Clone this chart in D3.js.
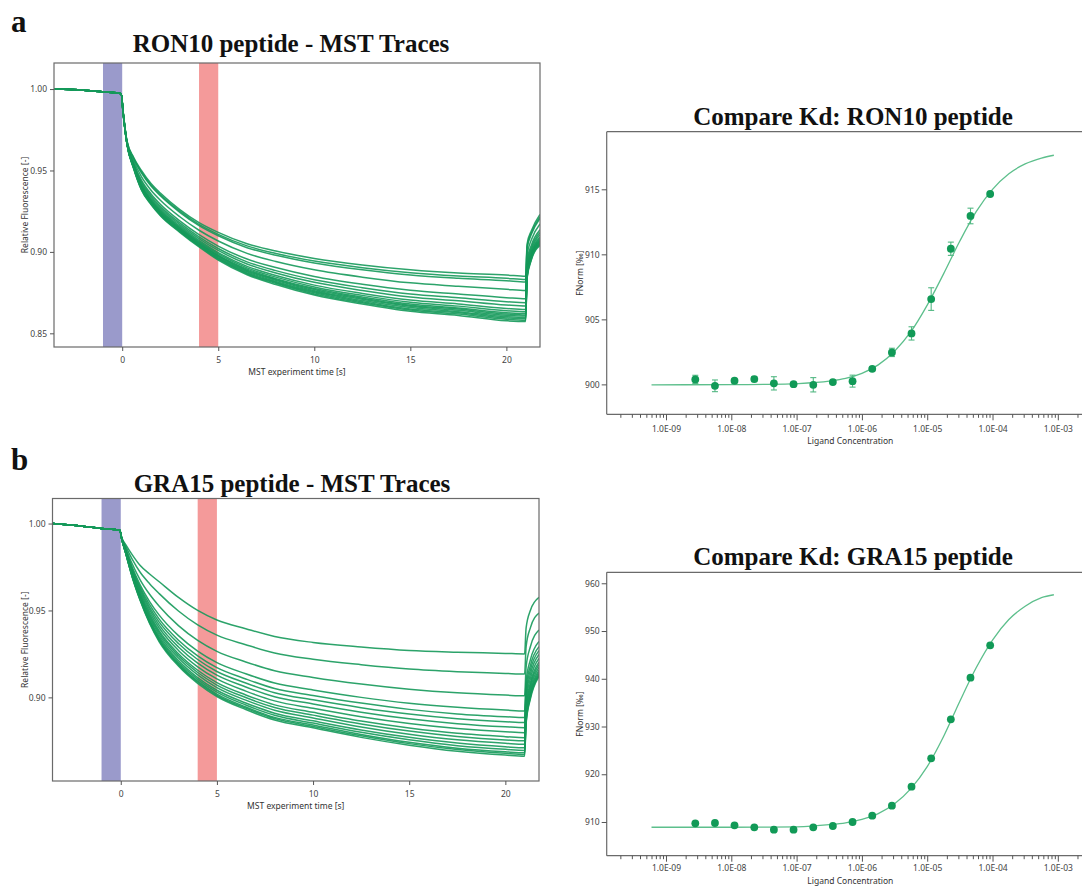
<!DOCTYPE html>
<html><head><meta charset="utf-8">
<script src="https://cdn.jsdelivr.net/npm/d3@7"></script>
<style>
body{margin:0;background:#fff;}
svg{display:block;}
</style></head><body>
<svg id="c" width="1082" height="886"></svg>
<script>
// ---------------- DATA ----------------
const mstTimeTicks = [0, 5, 10, 15, 20];
const coldRegion = [-1, 0];
const hotRegion = [4, 5];
const preTimes = [-3.55, -2, -1, -0.05];
const preA = [1.000, 0.9993, 0.9983, 0.9972];
const preB = [1.000, 0.9985, 0.9972, 0.9962];
const traceTimes = [0.05, 0.25, 0.6, 1, 1.5, 2, 3, 4, 5, 6.5, 8, 10, 12.5, 15, 17.5, 20, 21, 21.08, 21.3, 21.75];

const tracesA = [
  [0.986, 0.968, 0.958, 0.950, 0.942, 0.936, 0.926, 0.918, 0.912, 0.905, 0.9005, 0.8960, 0.892, 0.889, 0.887, 0.8858, 0.885, 0.905, 0.913, 0.923],
  [0.9859, 0.9679, 0.9575, 0.9491, 0.9411, 0.9350, 0.9250, 0.9169, 0.9108, 0.9037, 0.8990, 0.8944, 0.8903, 0.8872, 0.8852, 0.8838, 0.8830, 0.9035, 0.9117, 0.9217],
  [0.9859, 0.9678, 0.9571, 0.9485, 0.9404, 0.9343, 0.9243, 0.9161, 0.9099, 0.9026, 0.8979, 0.8932, 0.8890, 0.8858, 0.8838, 0.8823, 0.8815, 0.9024, 0.9108, 0.9206],
  [0.9857, 0.9674, 0.9558, 0.9462, 0.9379, 0.9316, 0.9216, 0.9133, 0.9067, 0.8991, 0.8941, 0.8890, 0.8845, 0.8810, 0.8789, 0.8770, 0.8763, 0.8984, 0.9074, 0.9171],
  [0.9855, 0.9670, 0.9545, 0.9441, 0.9356, 0.9291, 0.9191, 0.9106, 0.9036, 0.8956, 0.8904, 0.8849, 0.8801, 0.8764, 0.8741, 0.8719, 0.8712, 0.8946, 0.9041, 0.9136],
  [0.9854, 0.9668, 0.9539, 0.9430, 0.9344, 0.9278, 0.9178, 0.9092, 0.9021, 0.8939, 0.8885, 0.8829, 0.8780, 0.8741, 0.8718, 0.8694, 0.8688, 0.8927, 0.9025, 0.9119],
  [0.9853, 0.9667, 0.9534, 0.9421, 0.9335, 0.9268, 0.9168, 0.9082, 0.9009, 0.8926, 0.8871, 0.8813, 0.8763, 0.8723, 0.8700, 0.8674, 0.8668, 0.8912, 0.9012, 0.9106],
  [0.9853, 0.9665, 0.9529, 0.9412, 0.9325, 0.9258, 0.9158, 0.9071, 0.8996, 0.8911, 0.8855, 0.8796, 0.8745, 0.8704, 0.8680, 0.8653, 0.8647, 0.8897, 0.8999, 0.9091],
  [0.9852, 0.9664, 0.9525, 0.9407, 0.9319, 0.9251, 0.9151, 0.9063, 0.8988, 0.8902, 0.8845, 0.8785, 0.8733, 0.8691, 0.8667, 0.8639, 0.8633, 0.8886, 0.8990, 0.9082],
  [0.9852, 0.9664, 0.9522, 0.9401, 0.9313, 0.9245, 0.9145, 0.9057, 0.8980, 0.8894, 0.8836, 0.8775, 0.8723, 0.8680, 0.8656, 0.8627, 0.8621, 0.8877, 0.8982, 0.9074],
  [0.9851, 0.9663, 0.9520, 0.9398, 0.9309, 0.9241, 0.9141, 0.9052, 0.8975, 0.8888, 0.8831, 0.8769, 0.8716, 0.8673, 0.8649, 0.8619, 0.8613, 0.8871, 0.8977, 0.9068],
  [0.9851, 0.9662, 0.9518, 0.9395, 0.9306, 0.9237, 0.9137, 0.9048, 0.8971, 0.8883, 0.8825, 0.8762, 0.8709, 0.8666, 0.8641, 0.8611, 0.8606, 0.8865, 0.8972, 0.9063],
  [0.9851, 0.9662, 0.9516, 0.9391, 0.9302, 0.9232, 0.9132, 0.9043, 0.8965, 0.8877, 0.8818, 0.8755, 0.8701, 0.8658, 0.8633, 0.8602, 0.8597, 0.8859, 0.8966, 0.9057],
  [0.9851, 0.9661, 0.9514, 0.9387, 0.9298, 0.9228, 0.9128, 0.9039, 0.8960, 0.8871, 0.8812, 0.8749, 0.8694, 0.8650, 0.8626, 0.8594, 0.8589, 0.8853, 0.8961, 0.9051],
  [0.9850, 0.9661, 0.9512, 0.9384, 0.9294, 0.9224, 0.9124, 0.9035, 0.8955, 0.8866, 0.8807, 0.8742, 0.8688, 0.8643, 0.8618, 0.8586, 0.8581, 0.8847, 0.8956, 0.9046],
  [0.985, 0.966, 0.951, 0.938, 0.929, 0.922, 0.912, 0.903, 0.895, 0.886, 0.880, 0.8735, 0.868, 0.8635, 0.861, 0.8577, 0.8572, 0.884, 0.895, 0.904]
];

const tracesB = [
  [0.992, 0.988, 0.982, 0.976, 0.971, 0.9665, 0.9575, 0.950, 0.9445, 0.9395, 0.935, 0.9316, 0.929, 0.927, 0.926, 0.9253, 0.925, 0.940, 0.950, 0.9575],
  [0.9918, 0.9870, 0.9794, 0.9721, 0.9654, 0.9597, 0.9497, 0.9417, 0.9358, 0.9303, 0.9255, 0.9219, 0.9188, 0.9163, 0.9148, 0.9138, 0.9134, 0.9292, 0.9400, 0.9485],
  [0.9916, 0.9860, 0.9767, 0.9678, 0.9593, 0.9524, 0.9413, 0.9328, 0.9265, 0.9204, 0.9153, 0.9115, 0.9077, 0.9047, 0.9026, 0.9013, 0.9009, 0.9175, 0.9291, 0.9388],
  [0.9914, 0.9852, 0.9748, 0.9649, 0.9551, 0.9473, 0.9355, 0.9266, 0.9200, 0.9136, 0.9083, 0.9043, 0.9000, 0.8966, 0.8943, 0.8927, 0.8922, 0.9094, 0.9216, 0.9322],
  [0.9914, 0.9849, 0.9739, 0.9636, 0.9533, 0.9450, 0.9329, 0.9239, 0.9171, 0.9106, 0.9051, 0.9011, 0.8967, 0.8931, 0.8905, 0.8889, 0.8884, 0.9058, 0.9183, 0.9292],
  [0.9913, 0.9846, 0.9733, 0.9626, 0.9518, 0.9433, 0.9310, 0.9218, 0.9149, 0.9083, 0.9027, 0.8986, 0.8941, 0.8904, 0.8877, 0.8860, 0.8855, 0.9030, 0.9157, 0.9269],
  [0.9913, 0.9844, 0.9726, 0.9616, 0.9505, 0.9416, 0.9290, 0.9197, 0.9128, 0.9060, 0.9004, 0.8962, 0.8915, 0.8877, 0.8849, 0.8831, 0.8826, 0.9003, 0.9132, 0.9247],
  [0.9912, 0.9841, 0.9720, 0.9606, 0.9490, 0.9399, 0.9270, 0.9176, 0.9106, 0.9036, 0.8980, 0.8937, 0.8889, 0.8850, 0.8821, 0.8802, 0.8797, 0.8976, 0.9107, 0.9224],
  [0.9912, 0.9839, 0.9714, 0.9596, 0.9477, 0.9382, 0.9251, 0.9156, 0.9085, 0.9014, 0.8957, 0.8914, 0.8864, 0.8824, 0.8793, 0.8774, 0.8768, 0.8950, 0.9082, 0.9202],
  [0.9911, 0.9837, 0.9709, 0.9590, 0.9467, 0.9371, 0.9239, 0.9143, 0.9071, 0.8999, 0.8942, 0.8898, 0.8847, 0.8806, 0.8775, 0.8755, 0.8750, 0.8932, 0.9066, 0.9188],
  [0.9911, 0.9836, 0.9705, 0.9583, 0.9458, 0.9360, 0.9226, 0.9129, 0.9056, 0.8984, 0.8926, 0.8882, 0.8830, 0.8788, 0.8756, 0.8736, 0.8730, 0.8914, 0.9049, 0.9173],
  [0.9911, 0.9834, 0.9701, 0.9576, 0.9448, 0.9348, 0.9212, 0.9114, 0.9041, 0.8968, 0.8909, 0.8865, 0.8813, 0.8770, 0.8737, 0.8716, 0.8710, 0.8895, 0.9032, 0.9157],
  [0.9911, 0.9833, 0.9697, 0.9571, 0.9441, 0.9339, 0.9202, 0.9104, 0.9030, 0.8956, 0.8897, 0.8852, 0.8799, 0.8756, 0.8722, 0.8701, 0.8695, 0.8881, 0.9019, 0.9145],
  [0.9910, 0.9832, 0.9694, 0.9566, 0.9434, 0.9331, 0.9193, 0.9093, 0.9019, 0.8945, 0.8885, 0.8841, 0.8787, 0.8742, 0.8708, 0.8687, 0.8681, 0.8868, 0.9006, 0.9135],
  [0.9910, 0.9831, 0.9692, 0.9563, 0.9430, 0.9326, 0.9187, 0.9087, 0.9012, 0.8938, 0.8878, 0.8833, 0.8779, 0.8734, 0.8700, 0.8678, 0.8672, 0.8859, 0.8999, 0.9128],
  [0.991, 0.983, 0.969, 0.956, 0.9425, 0.932, 0.918, 0.908, 0.9005, 0.893, 0.887, 0.8825, 0.877, 0.8725, 0.869, 0.8668, 0.8662, 0.885, 0.899, 0.912]
];

const relFluorTicksA = [0.85, 0.90, 0.95, 1.00];
const relFluorTicksB = [0.90, 0.95, 1.00];

const ligandConc = [2.81e-9, 5.62e-9, 1.12e-8, 2.25e-8, 4.49e-8, 8.98e-8, 1.80e-7, 3.59e-7, 7.19e-7, 1.44e-6, 2.88e-6, 5.75e-6, 1.15e-5, 2.30e-5, 4.60e-5, 9.20e-5];
const fnormA = [900.38, 899.89, 900.28, 900.41, 900.08, 900.02, 899.97, 900.18, 900.25, 901.2, 902.46, 903.92, 906.56, 910.43, 912.95, 914.64];
const fnormErrA = [0.32, 0.45, 0.15, 0.2, 0.51, 0.15, 0.55, 0.15, 0.46, 0.15, 0.32, 0.51, 0.87, 0.51, 0.6, 0.1];
const fnormB = [909.73, 909.79, 909.3, 908.89, 908.39, 908.39, 908.89, 909.16, 910.0, 911.33, 913.42, 917.39, 923.33, 931.5, 940.23, 947.0];
const fnormErrB = [0.3, 0.3, 0.3, 0.3, 0.3, 0.3, 0.3, 0.3, 0.3, 0.3, 0.3, 0.3, 0.3, 0.3, 0.3, 0.3];

const fitConc = [6.0e-10, 1e-8, 3.16e-8, 1e-7, 3.16e-7, 5.62e-7, 1e-6, 1.78e-6, 3.16e-6, 5.62e-6, 1e-5, 1.78e-5, 3.16e-5, 5.62e-5, 1e-4, 1.78e-4, 3.16e-4, 5.62e-4, 8.7e-4];
const fitA = [899.97, 899.98, 900.0, 900.06, 900.25, 900.46, 900.85, 901.5, 902.55, 904.05, 906.1, 908.5, 911.02, 913.28, 915.0, 916.2, 916.95, 917.4, 917.62];
const fitB = [908.9, 908.9, 908.92, 908.98, 909.43, 909.83, 910.53, 911.74, 913.8, 917.0, 921.6, 927.9, 935.3, 942.3, 948.1, 952.4, 955.2, 957.0, 957.6];

const fnormTicksA = [900, 905, 910, 915];
const fnormTicksB = [910, 920, 930, 940, 950, 960];
const concMajorTicks = [1e-9, 1e-8, 1e-7, 1e-6, 1e-5, 1e-4, 1e-3];

// ---------------- DRAWING ----------------
const svg = d3.select("#c");
const SANS = "'Segoe UI','Noto Sans','Open Sans',sans-serif";
const SERIF = "'Liberation Serif','DejaVu Serif',serif";
const GREEN = "#15995a";
const AXIS = "#555";

function styleAxis(g){
  g.select(".domain").remove();
  g.selectAll(".tick line").attr("stroke", AXIS).attr("stroke-width", 1);
  g.selectAll(".tick text").attr("fill", "#444").style("font-family", SANS).style("font-size", "8.5px");
}

function mstPanel(opt){
  const {x0,x1,y0,y1,yDom,yTicks,pre,preT,traces,title,titleX,titleY,label,labelY,id} = opt;
  const x = d3.scaleLinear().domain([-3.55, 21.75]).range([x0, x1]);
  const y = d3.scaleLinear().domain(yDom).range([y1, y0]);
  const g = svg.append("g");
  g.append("clipPath").attr("id", id).append("rect").attr("x", x0).attr("y", y0).attr("width", x1-x0).attr("height", y1-y0);
  g.append("rect").attr("x", x(coldRegion[0])).attr("y", y0).attr("width", x(coldRegion[1])-x(coldRegion[0])).attr("height", y1-y0).attr("fill", "#9a9acb");
  g.append("rect").attr("x", x(hotRegion[0])).attr("y", y0).attr("width", x(hotRegion[1])-x(hotRegion[0])).attr("height", y1-y0).attr("fill", "#f49a9a");
  const line = d3.line().x(d => x(d[0])).y(d => y(d[1])).curve(d3.curveMonotoneX);
  const tg = g.append("g").attr("clip-path", `url(#${id})`);
  traces.forEach(tr => {
    const pts = preT.map((t,i) => [t, pre[i]]).concat(traceTimes.map((t,i) => [t, tr[i]]));
    tg.append("path").attr("d", line(pts)).attr("fill", "none").attr("stroke", GREEN).attr("stroke-width", 1.5).attr("stroke-opacity", 0.9);
  });
  g.append("rect").attr("x", x0).attr("y", y0).attr("width", x1-x0).attr("height", y1-y0).attr("fill", "none").attr("stroke", "#6a6a6a").attr("stroke-width", 1.2);
  const ax = g.append("g").attr("transform", `translate(0,${y1})`).call(d3.axisBottom(x).tickValues(mstTimeTicks).tickSize(4).tickPadding(6).tickFormat(d3.format("d")));
  styleAxis(ax);
  const ay = g.append("g").attr("transform", `translate(${x0},0)`).call(d3.axisLeft(y).tickValues(yTicks).tickSize(4).tickPadding(3).tickFormat(d3.format(".2f")));
  styleAxis(ay);
  g.append("text").attr("x", (x0+x1)/2).attr("y", y1+28).attr("text-anchor", "middle").style("font-family", SANS).style("font-size", "8.5px").attr("fill", "#333").text("MST experiment time [s]");
  g.append("text").attr("transform", `translate(28,${(y0+y1)/2}) rotate(-90)`).attr("text-anchor", "middle").style("font-family", SANS).style("font-size", "8.5px").attr("fill", "#333").text("Relative Fluorescence [-]");
  g.append("text").attr("x", titleX).attr("y", titleY).attr("text-anchor", "middle").style("font-family", SERIF).style("font-weight", "bold").style("font-size", "25px").attr("fill", "#111").text(title);
  g.append("text").attr("x", 11).attr("y", labelY).style("font-family", SERIF).style("font-weight", "bold").style("font-size", "31px").attr("fill", "#111").text(label);
}

function kdPanel(opt){
  const {y0,y1,yDom,yTicks,vals,errs,fit,title,titleY,xTitleDy,tickPad} = opt;
  const x0 = 606.7, x1 = 1094;
  const x = d3.scaleLog().domain([Math.pow(10,-9.908), Math.pow(10,-2.446)]).range([x0, x1]);
  const y = d3.scaleLinear().domain(yDom).range([y1, y0]);
  const g = svg.append("g");
  g.append("line").attr("x1", x0).attr("x2", x1).attr("y1", y0).attr("y2", y0).attr("stroke", "#6a6a6a").attr("stroke-width", 1.2);
  g.append("line").attr("x1", x0).attr("x2", x0).attr("y1", y0).attr("y2", y1).attr("stroke", "#6a6a6a").attr("stroke-width", 1.2);
  g.append("line").attr("x1", x0).attr("x2", x1).attr("y1", y1).attr("y2", y1).attr("stroke", "#6a6a6a").attr("stroke-width", 1.2);
  const minor = x.ticks().filter(d => !concMajorTicks.some(m => Math.abs(m-d)/m < 1e-6));
  g.append("g").attr("transform", `translate(0,${y1})`).call(d3.axisBottom(x).tickValues(minor).tickSize(3.5).tickFormat("")).call(styleAxis);
  const fmt = d => { const e = Math.round(Math.log10(d)); return "1.0E" + (e < 0 ? "-" : "+") + String(Math.abs(e)).padStart(2, "0"); };
  const ax = g.append("g").attr("transform", `translate(0,${y1})`).call(d3.axisBottom(x).tickValues(concMajorTicks).tickSize(6).tickPadding(tickPad).tickFormat(fmt));
  styleAxis(ax);
  const ay = g.append("g").attr("transform", `translate(${x0},0)`).call(d3.axisLeft(y).tickValues(yTicks).tickSize(5).tickPadding(2).tickFormat(d3.format("d")));
  styleAxis(ay);
  const line = d3.line().x(d => x(d[0])).y(d => y(d[1])).curve(d3.curveMonotoneX);
  g.append("path").attr("d", line(fitConc.map((c,i) => [c, fit[i]]))).attr("fill", "none").attr("stroke", "#5dbf8c").attr("stroke-width", 1.3);
  const eb = g.append("g").attr("stroke", "#52b883").attr("stroke-width", 1.1);
  ligandConc.forEach((c,i) => {
    const cx = x(c), ya = y(vals[i]-errs[i]), yb = y(vals[i]+errs[i]);
    eb.append("line").attr("x1", cx).attr("x2", cx).attr("y1", ya).attr("y2", yb);
    eb.append("line").attr("x1", cx-3).attr("x2", cx+3).attr("y1", ya).attr("y2", ya);
    eb.append("line").attr("x1", cx-3).attr("x2", cx+3).attr("y1", yb).attr("y2", yb);
  });
  g.selectAll("circle.pt").data(ligandConc).enter().append("circle").attr("class", "pt")
    .attr("cx", d => x(d)).attr("cy", (d,i) => y(vals[i])).attr("r", 3.9).attr("fill", "#119a57");
  g.append("text").attr("x", (x0+x1)/2).attr("y", y1+xTitleDy).attr("text-anchor", "middle").style("font-family", SANS).style("font-size", "8.5px").attr("fill", "#333").text("Ligand Concentration");
  g.append("text").attr("transform", `translate(583,${(y0+y1)/2}) rotate(-90)`).attr("text-anchor", "middle").style("font-family", SANS).style("font-size", "8.5px").attr("fill", "#333").text("FNorm [‰]");
  g.append("text").attr("x", 853).attr("y", titleY).attr("text-anchor", "middle").style("font-family", SERIF).style("font-weight", "bold").style("font-size", "25px").attr("fill", "#111").text(title);
}

mstPanel({x0:54, x1:540, y0:63, y1:347, yDom:[0.8416, 1.016], yTicks:relFluorTicksA, pre:preA, preT:preTimes, traces:tracesA,
  title:"RON10 peptide - MST Traces", titleX:291, titleY:52, label:"a", labelY:32, id:"clipA"});
mstPanel({x0:52.5, x1:539, y0:498.5, y1:781, yDom:[0.8519, 1.0144], yTicks:relFluorTicksB, pre:preB, preT:preTimes, traces:tracesB,
  title:"GRA15 peptide - MST Traces", titleX:292, titleY:491.5, label:"b", labelY:470, id:"clipB"});
kdPanel({y0:131.7, y1:414.3, yDom:[897.7, 919.43], yTicks:fnormTicksA, vals:fnormA, errs:fnormErrA, fit:fitA, title:"Compare Kd: RON10 peptide", titleY:125, xTitleDy:30, tickPad:6});
kdPanel({y0:572.3, y1:855.7, yDom:[902.94, 962.3], yTicks:fnormTicksB, vals:fnormB, errs:fnormErrB, fit:fitB, title:"Compare Kd: GRA15 peptide", titleY:565, xTitleDy:28, tickPad:3.5});
</script>
</body></html>
